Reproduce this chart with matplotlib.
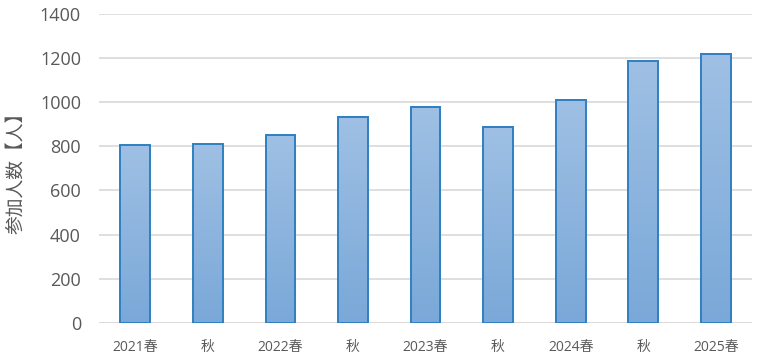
import numpy as np
import matplotlib
matplotlib.use('Agg')
import matplotlib.pyplot as plt
from matplotlib.colors import LinearSegmentedColormap

plt.rcParams['font.family'] = ['Open Sans', 'Noto Sans CJK JP', 'DejaVu Sans']

labels = ['2021春', '秋', '2022春', '秋', '2023春', '秋', '2024春', '秋', '2025春']
values = [804, 810, 850, 934, 979, 889, 1010, 1186, 1216]

fig = plt.figure(figsize=(7.6, 3.61), dpi=100)
ax = fig.add_axes([0.1303, 0.1053, 0.8592, 0.8567])

cmap = LinearSegmentedColormap.from_list('grad', ['#7aa8d8', '#9fc0e4'])
grad = np.linspace(0, 1, 256).reshape(-1, 1)
width = 0.41
x = np.arange(len(values))

bars = ax.bar(x, values, width=width, facecolor='none', edgecolor='#2e80c2',
              linewidth=1.4, zorder=3)
for b in bars:
    x0, y0 = b.get_x(), b.get_y()
    ax.imshow(grad, cmap=cmap, origin='lower', aspect='auto', zorder=2,
              extent=(x0, x0 + b.get_width(), y0, y0 + b.get_height()))

ax.set_xlim(-0.5, len(values) - 0.5)
ax.set_ylim(0, 1400)
ax.set_yticks(range(0, 1401, 200))
ax.set_xticks(x)
ax.set_xticklabels(labels)

ax.grid(axis='y', color='#d9d9d9', linewidth=1.2, zorder=0)
ax.set_axisbelow(True)
for s in ax.spines.values():
    s.set_visible(False)
ax.axhline(0, color='#d9d9d9', linewidth=1.2, zorder=1)

ax.tick_params(axis='y', length=0, pad=13, labelsize=13, labelcolor='#595959')
ax.tick_params(axis='x', length=0, pad=12.5, labelsize=10, labelcolor='#595959')

ax.set_ylabel('参加人数【人】', fontsize=13.5, color='#595959', va='center')
ax.yaxis.set_label_coords(-0.127, 0.5)

fig.savefig('out.png', dpi=100)
